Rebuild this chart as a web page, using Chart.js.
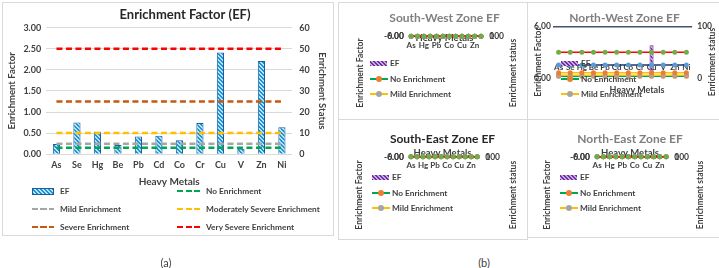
<!DOCTYPE html>
<html>
<head>
<meta charset="utf-8">
<script src="https://cdn.jsdelivr.net/npm/chart.js"></script>
<style>
body { margin: 0; background: #fff; font-family: Lato, sans-serif; }
#page { position: relative; width: 719px; height: 268px; overflow: hidden; background: #fff; }
.panel { position: absolute; border: 1px solid #d9d9d9; box-sizing: border-box; }
canvas { position: absolute; }
.lg { position: absolute; height: 12px; display: flex; align-items: center; font: bold 8.3px Lato, sans-serif; color: #404040; white-space: nowrap; }
.vt { position: absolute; font: bold 8.5px Lato, sans-serif; color: #404040; white-space: nowrap; transform: translate(-50%, -50%) rotate(-90deg); }
.ht { position: absolute; font: bold 9px Lato, sans-serif; color: #404040; white-space: nowrap; transform: translate(-50%, -50%); }
.cap { position: absolute; font: 11px Lato, sans-serif; color: #404040; transform: translate(-50%, -50%); }
</style>
</head>
<body>
<div id="page">
  <div class="panel" style="left:2px;top:2px;width:332px;height:234px"></div>
  <div class="panel" style="left:338px;top:2px;width:190px;height:118px"></div>
  <div class="panel" style="left:527px;top:2px;width:194px;height:118px"></div>
  <div class="panel" style="left:338px;top:119px;width:190px;height:121px"></div>
  <div class="panel" style="left:527px;top:119px;width:194px;height:119px"></div>
  <canvas id="efChart" width="366" height="186" style="left:3px;top:3px"></canvas>
  <canvas id="swChart" width="186" height="50" style="left:339px;top:3px"></canvas>
  <canvas id="nwChart" width="189" height="85" style="left:529px;top:3px"></canvas>
  <canvas id="seChart" width="186" height="50" style="left:339px;top:123px"></canvas>
  <canvas id="neChart" width="189" height="50" style="left:529px;top:123px"></canvas>
</div>
<script>
// (a) overall enrichment factor
const metals = ['As', 'Se', 'Hg', 'Be', 'Pb', 'Cd', 'Co', 'Cr', 'Cu', 'V', 'Zn', 'Ni'];
const efValues = [0.24, 0.75, 0.53, 0.22, 0.42, 0.44, 0.33, 0.74, 2.41, 0.13, 2.21, 0.64];
const efTicks = [0, 0.5, 1, 1.5, 2, 2.5, 3];
const statusTicks = [0, 10, 20, 30, 40, 50, 60];
const classNames = ['No Enrichment', 'Mild Enrichment', 'Moderately Severe Enrichment', 'Severe Enrichment', 'Very Severe Enrichment'];
const classLevels = [3, 5, 10, 25, 50];
const classColors = ['#00a650', '#a6a6a6', '#ffc000', '#c55a11', '#ff0000'];

// (b) zone panels
const nwEf = [0.30, 0.35, 0.30, 0.25, 0.30, 0.30, 0.25, 0.30, 3.80, 0.20, 0.40, 0.30];
const swEf = [0.20, 0.60, 0.40, 0.20, 0.35, 0.40, 0.30, 0.60, 2.00, 0.10, 1.80, 0.50];
const seEf = [0.25, 0.70, 0.50, 0.20, 0.40, 0.45, 0.30, 0.70, 2.30, 0.15, 2.10, 0.60];
const neEf = [0.25, 0.80, 0.60, 0.25, 0.45, 0.45, 0.35, 0.80, 2.60, 0.15, 2.40, 0.70];
const zoneEfTicks = [-6, 0];
const nwEfTicks = [0, 6];
const zoneStatusTicks = [0, 100];
const zoneLineColors = ['#00a650', '#ffc000', '#ffc000', '#1f3864', '#ff0000'];
const zoneMarkerColors = ['#ed7d31', '#a5a5a5', '#ed7d31', '#5b9bd5', '#70ad47'];

Chart.defaults.font.family = 'Lato, sans-serif';
Chart.defaults.color = '#404040';

function hatch(bg, fg) {
    const t = document.createElement('canvas');
    t.width = t.height = 4;
    const c = t.getContext('2d');
    c.fillStyle = bg;
    c.fillRect(0, 0, 4, 4);
    c.fillStyle = fg;
    for (let i = 0; i < 4; i++) {
        c.fillRect(i, i, 1, 1);
        c.fillRect((i + 1) % 4, i, 1, 1);
    }
    return c.createPattern(t, 'repeat');
}

const tickFont = { size: 9, weight: 'bold' };
const fixTicks = list => scale => { scale.ticks = list.map(v => ({ value: v })); };

// Panel (a)
new Chart(document.getElementById('efChart'), {
    type: 'bar',
    data: {
        labels: metals,
        datasets: [{
            type: 'bar', label: 'EF', data: efValues, yAxisID: 'y', order: 10,
            backgroundColor: hatch('#b8e2f7', '#1a94d6'), borderColor: '#1f5c99', borderWidth: 1,
            barPercentage: 0.7, categoryPercentage: 0.5
        }].concat(classNames.map((name, i) => ({
            type: 'line', label: name, data: metals.map(() => classLevels[i]), yAxisID: 'y1', order: 0,
            borderColor: classColors[i], borderWidth: 2.5, borderDash: [6, 3.5], pointRadius: 0, fill: false
        })))
    },
    options: {
        responsive: false,
        animation: false,
        layout: { padding: { left: 3, right: 5 } },
        plugins: {
            legend: { display: false },
            tooltip: { enabled: false },
            title: { display: true, text: 'Enrichment Factor (EF)', color: '#262626', font: { size: 13, weight: 'bold' }, padding: { top: 4, bottom: 5 } }
        },
        scales: {
            x: {
                grid: { display: false, drawTicks: false }, border: { display: false },
                ticks: { font: tickFont, padding: 5, maxRotation: 0, autoSkip: false },
                title: { display: true, text: 'Heavy Metals', font: { size: 10, weight: 'bold' }, padding: { top: 1, bottom: 1 } }
            },
            y: {
                min: 0, max: 3, afterBuildTicks: fixTicks(efTicks),
                ticks: { font: tickFont, padding: 5, callback: v => v.toFixed(2) },
                grid: { color: '#d9d9d9', drawTicks: false }, border: { display: false },
                title: { display: true, text: 'Enrichment Factor', font: { size: 9.5, weight: 'bold' }, padding: { top: 0, bottom: 1 } }
            },
            y1: {
                position: 'right', min: 0, max: 60, afterBuildTicks: fixTicks(statusTicks),
                ticks: { font: tickFont, padding: 7 },
                grid: { drawOnChartArea: false, drawTicks: false }, border: { display: false },
                title: { display: true, text: 'Enrichment Status', font: { size: 9.5, weight: 'bold' }, padding: { top: 36, bottom: 0 } }
            }
        }
    }
});

// Panel (b) helpers
const purple = hatch('#c9a8e6', '#7030a0');

function zoneDatasets(ef) {
    return [{
        type: 'bar', label: 'EF', data: ef, yAxisID: 'y', order: 10,
        backgroundColor: purple, borderColor: '#7030a0', borderWidth: 1,
        barPercentage: 0.7, categoryPercentage: 0.5
    }].concat(classNames.map((name, i) => ({
        type: 'line', label: name, data: metals.map(() => classLevels[i]), yAxisID: 'y1', order: 4 - i,
        borderColor: zoneLineColors[i], borderWidth: 1.5, pointRadius: 2.5, pointBorderWidth: 0,
        pointBackgroundColor: zoneMarkerColors[i], clip: false
    })));
}

function collapsedZone(id, ef, title, titleColor, pad) {
    new Chart(document.getElementById(id), {
        type: 'bar',
        data: { labels: metals, datasets: zoneDatasets(ef) },
        options: {
            responsive: false,
            animation: false,
            layout: { padding: { left: pad.left, right: pad.right } },
            plugins: {
                legend: { display: false },
                tooltip: { enabled: false },
                title: { display: true, text: title, color: titleColor, font: { size: 12, weight: 'bold' }, padding: { top: pad.tTop, bottom: pad.tBot } },
                subtitle: { display: true, text: 'Heavy Metals', color: '#404040', font: { size: 9.5, weight: 'bold' }, padding: { top: 0, bottom: pad.sBot } }
            },
            scales: {
                x: { grid: { display: false, drawTicks: false }, border: { display: false }, ticks: { font: { size: 8, weight: 'bold' }, maxRotation: 0, padding: 4, autoSkipPadding: 1 } },
                y: {
                    min: -6, max: 0, afterBuildTicks: fixTicks(zoneEfTicks),
                    ticks: { autoSkip: false, font: { size: 8.5, weight: 'bold' }, padding: 4, callback: v => v.toFixed(2) },
                    grid: { display: false, drawTicks: false }, border: { display: false }
                },
                y1: {
                    position: 'right', min: 0, max: 100, afterBuildTicks: fixTicks(zoneStatusTicks),
                    ticks: { autoSkip: false, font: { size: 8.5, weight: 'bold' }, padding: 5 },
                    grid: { display: false, drawTicks: false }, border: { display: false }
                }
            }
        }
    });
}

collapsedZone('swChart', swEf, 'South-West Zone EF', '#7f7f7f', { left: 41, right: 16, tTop: 8, tBot: 6.5, sBot: -7 });
collapsedZone('seChart', seEf, 'South-East Zone EF', '#262626', { left: 41, right: 20, tTop: 9, tBot: 1, sBot: -2 });
collapsedZone('neChart', neEf, 'North-East Zone EF', '#7f7f7f', { left: 37, right: 24, tTop: 9, tBot: 1, sBot: -2 });

// North-West zone keeps a visible plot area
new Chart(document.getElementById('nwChart'), {
    type: 'bar',
    data: { labels: metals, datasets: zoneDatasets(nwEf) },
    options: {
        responsive: false,
        animation: false,
        layout: { padding: { left: 3, right: 1, bottom: 7 } },
        plugins: {
            legend: { display: false },
            tooltip: { enabled: false },
            title: { display: true, text: 'North-West Zone EF', color: '#7f7f7f', font: { size: 12, weight: 'bold' }, padding: { top: 8, bottom: 1 } }
        },
        scales: {
            x: {
                position: { y: 1.9 },
                grid: { display: false, drawTicks: false }, border: { display: false },
                ticks: { autoSkip: false, maxRotation: 0, font: { size: 8, weight: 'bold' }, padding: 1 }
            },
            y: {
                min: 0, max: 6, afterBuildTicks: fixTicks(nwEfTicks),
                ticks: { font: { size: 8.5, weight: 'bold' }, padding: 2, callback: v => v.toFixed(2) },
                grid: { color: c => (c.tick && c.tick.value === 6) ? '#44546a' : 'rgba(0,0,0,0)', lineWidth: 1.5, drawTicks: false },
                border: { display: false }
            },
            y1: {
                position: 'right', min: 0, max: 100, afterBuildTicks: fixTicks(zoneStatusTicks),
                ticks: { font: { size: 8.5, weight: 'bold' }, padding: 5 },
                grid: { display: false, drawTicks: false }, border: { display: false }
            }
        }
    }
});

// Legends, axis titles and captions as page text
const page = document.getElementById('page');
function put(cls, x, y, text, symbol) {
    const d = document.createElement('div');
    d.className = cls;
    d.style.left = x + 'px';
    d.style.top = y + 'px';
    if (symbol) d.appendChild(symbol);
    const s = document.createElement('span');
    s.textContent = text;
    d.appendChild(s);
    page.appendChild(d);
    return d;
}
function sym(css) {
    const s = document.createElement('span');
    s.style.cssText = 'display:inline-block;flex:none;position:relative;' + css;
    return s;
}
function dashSym(color) {
    return sym('width:22px;height:2.5px;margin-right:6px;background:repeating-linear-gradient(90deg,' + color + ' 0 6px,transparent 6px 8.5px);');
}
const efSym = () => sym('width:20px;height:5px;margin-right:6px;border:1px solid #1f5c99;background:repeating-linear-gradient(45deg,#1a94d6 0 1.4px,#b8e2f7 1.4px 2.8px);');

put('lg', 32, 185, 'EF', efSym());
const legendSlots = [[177, 185], [32, 203], [177, 203], [32, 221], [177, 221]];
classNames.forEach((name, i) => {
    const s = dashSym(classColors[i]);
    if (legendSlots[i][0] > 100) s.style.width = '23px';
    put('lg', legendSlots[i][0], legendSlots[i][1], name, s);
});

function zoneLegend(x, y) {
    put('lg', x, y - 6, 'EF', sym('width:17px;height:5px;margin-right:3px;background:repeating-linear-gradient(45deg,#7030a0 0 1.4px,#c9a8e6 1.4px 2.8px);'));
    const noSym = sym('width:18px;height:2px;margin-right:2px;background:' + zoneLineColors[0] + ';');
    noSym.appendChild(sym('position:absolute;left:6px;top:-2.5px;width:6px;height:6px;border-radius:50%;background:' + zoneMarkerColors[0] + ';'));
    put('lg', x, y + 10, classNames[0], noSym);
    const mildSym = sym('width:18px;height:2px;margin-right:2px;background:' + zoneLineColors[1] + ';');
    mildSym.appendChild(sym('position:absolute;left:6px;top:-2.5px;width:6px;height:6px;border-radius:50%;background:' + zoneMarkerColors[1] + ';'));
    put('lg', x, y + 25, classNames[1], mildSym);
}
zoneLegend(370, 63);
zoneLegend(372, 177);
zoneLegend(560, 177);
zoneLegend(561, 63);
put('ht', 637, 89, 'Heavy Metals');

[[360, 73, 513], [359, 195, 513], [547, 195, 700], [538, 62, 712]].forEach(p => {
    put('vt', p[0], p[1], 'Enrichment Factor');
    put('vt', p[2], p[1], 'Enrichment status');
});

put('cap', 166, 262, '(a)');
put('cap', 484, 262, '(b)');
</script>
</body>
</html>
